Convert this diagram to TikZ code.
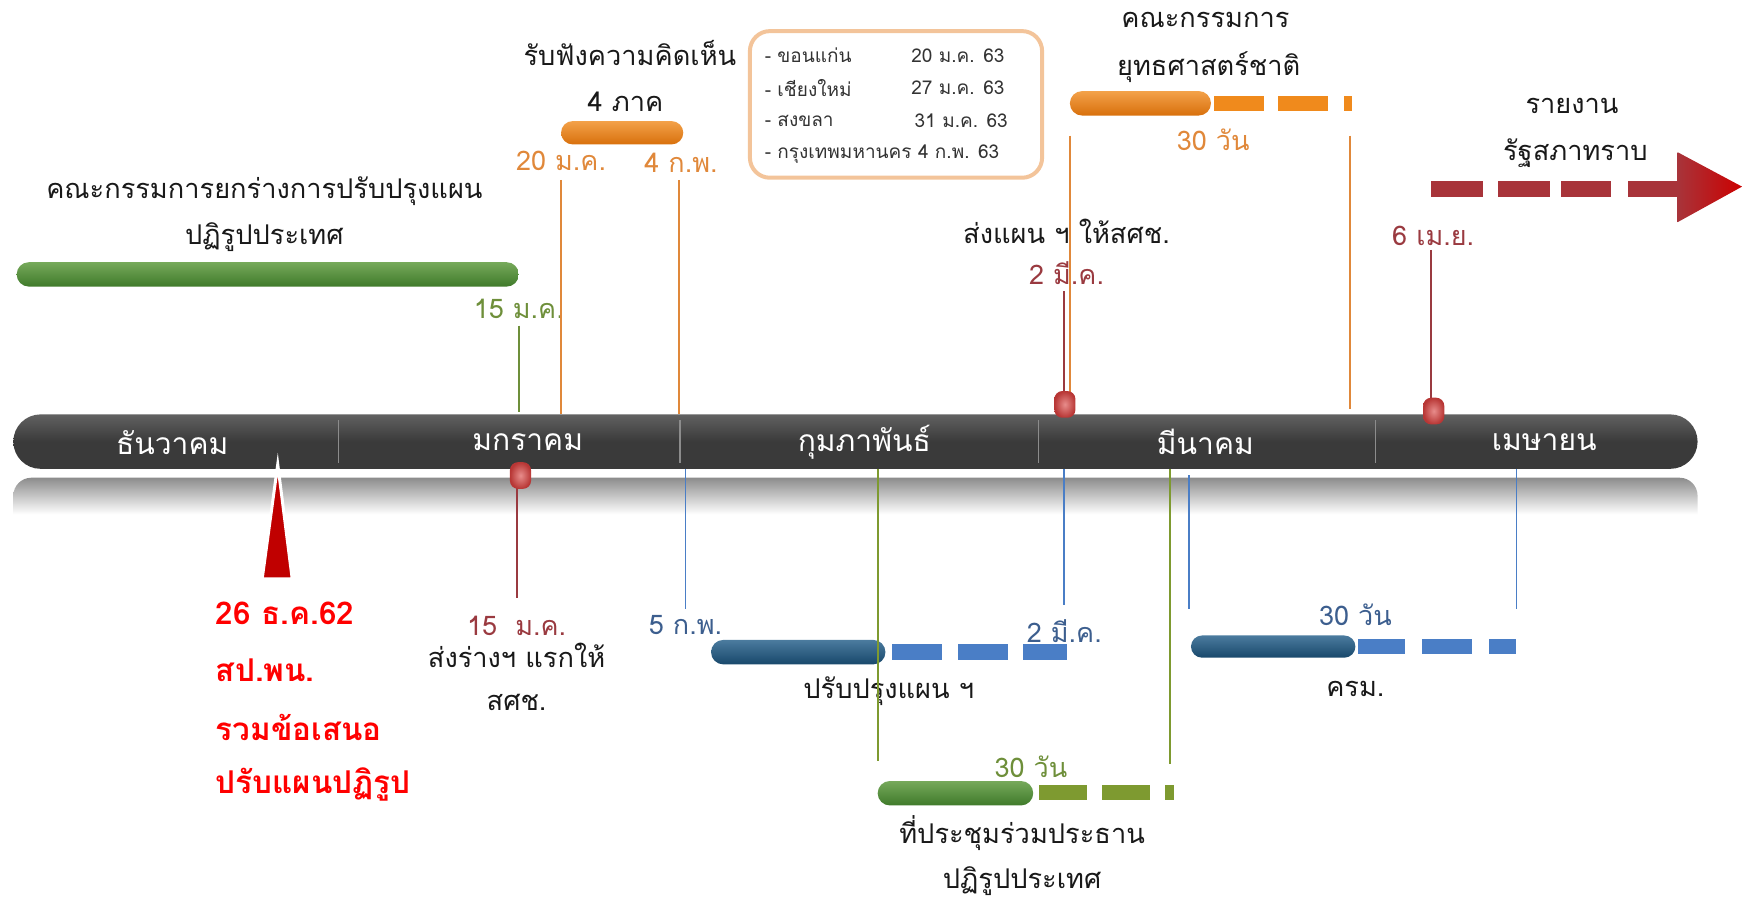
\documentclass[tikz,border=0pt]{standalone}
\usepackage{fontspec}
\newfontfamily\thai[Script=Thai]{Loma}
\usetikzlibrary{shapes.misc}
\definecolor{barc}{HTML}{3A3A3A}
\definecolor{grn}{HTML}{5E9A3E}
\definecolor{grnd}{HTML}{3F7A2A}
\definecolor{grnt}{HTML}{6E8F3A}
\definecolor{olv}{HTML}{7E9A30}
\definecolor{org}{HTML}{F08A1C}
\definecolor{orgd}{HTML}{D8700C}
\definecolor{orgt}{HTML}{E0883A}
\definecolor{orgl}{HTML}{F3C49A}
\definecolor{dred}{HTML}{A8343A}
\definecolor{dredt}{HTML}{9A3A40}
\definecolor{blud}{HTML}{1E5A86}
\definecolor{blul}{HTML}{4A7EC6}
\definecolor{blut}{HTML}{3C5E8E}
\definecolor{bril}{HTML}{FF0000}
\definecolor{tri}{HTML}{C00000}
\definecolor{pinc}{HTML}{D8403E}
\tikzset{
  lbl/.style={font=\thai\fontsize{13.6}{16}\selectfont, text=black!90, inner sep=0pt},
  mon/.style={font=\thai\fontsize{15}{17}\selectfont, text=white, inner sep=0pt},
  dt/.style={font=\thai\fontsize{13.5}{15}\selectfont, inner sep=0pt},
  boxt/.style={font=\thai\fontsize{9.5}{11}\selectfont, text=black!80, inner sep=0pt, anchor=west},
  redt/.style={font=\thai\bfseries\fontsize{15.7}{18}\selectfont, text=bril, inner sep=0pt, anchor=west},
  vl/.style={line width=0.9pt},
  pin/.style={inner color=pinc!60!white, outer color=pinc!85!black, rounded corners=4pt},
  capsule/.style={rounded rectangle, inner sep=0pt, draw=none},
}
\newcommand\capsule[6]{\node[capsule, minimum width={(#4-#2)*0.5555pt}, minimum height={(#5-#3)*0.5555pt}, #6] (#1) at ({(#2+#4)/2},{(#3+#5)/2}) {};}
\begin{document}
\begin{tikzpicture}[x=0.5555pt,y=-0.5555pt]
\useasboundingbox (0,0) rectangle (1568,817);
% reflection
\shade[top color=black!45, bottom color=white, middle color=white, rounded corners=9pt] (12,430) rectangle (1528,496);
% main bar
\capsule{bar}{12}{373}{1528}{422}{top color=black!62, bottom color=barc, middle color=barc}
\foreach \x in {305,612,935,1238} \draw[black!45, line width=0.6pt] (\x,378) -- (\x,417);
\node[mon] (m1) at (155,398) {ธันวาคม};
\node[mon] (m2) at (475,398) {มกราคม};
\node[mon] (m3) at (778,398) {กุมภาพันธ์};
\node[mon] (m4) at (1085,398) {มีนาคม};
\node[mon] (m5) at (1390,398) {เมษายน};

% ---------- top left green
\node[lbl] (gl1) at (238,172) {คณะกรรมการยกร่างการปรับปรุงแผน};
\node[lbl] (gl2) at (238,213) {ปฏิรูปประเทศ};
\capsule{gbar}{15}{236}{467}{258}{top color=grn!85, bottom color=grnd}
\node[dt, text=grnt] (g15) at (467,278) {15 ม.ค.};
\coordinate (g15a) at (467,293); \coordinate (g15b) at (467,371);
\draw[vl, grnt] (g15a) -- (g15b);

% ---------- orange hearing
\node[lbl] (o1) at (567,48) {รับฟังความคิดเห็น};
\node[lbl] (o2) at (563,92) {4 ภาค};
\capsule{obar}{505}{109}{615}{130}{top color=org!80, bottom color=orgd}
\node[dt, text=orgt] (o20) at (505,145) {20 ม.ค.};
\node[dt, text=orgt] (o4) at (613,147) {4 ก.พ.};
\coordinate (o20a) at (505,162); \coordinate (o20b) at (505,373);
\coordinate (o4a) at (611,162); \coordinate (o4b) at (611,373);
\draw[vl, orgt] (o20a) -- (o20b);
\draw[vl, orgt] (o4a) -- (o4b);

% ---------- box
\draw[orgl, line width=2pt, rounded corners=10pt] (675,28) rectangle (938,160);
\node[boxt] (b1) at (688,50) {- ขอนแก่น};
\node[boxt] (b1d) at (820,50) {20 ม.ค. 63};
\node[boxt] (b2) at (688,79) {- เชียงใหม่};
\node[boxt] (b2d) at (820,79) {27 ม.ค. 63};
\node[boxt] (b3) at (688,109) {- สงขลา};
\node[boxt] (b3d) at (823,109) {31 ม.ค. 63};
\node[boxt] (b4) at (688,139) {- กรุงเทพมหานคร 4 ก.พ. 63};

% ---------- strategy committee
\node[lbl] (s1) at (1085,18) {คณะกรรมการ};
\node[lbl] (s2) at (1088,60) {ยุทธศาสตร์ชาติ};
\capsule{sbar}{963}{82}{1090}{104}{top color=org!80, bottom color=orgd}
\fill[org] (1093,86) rectangle (1138,100);
\fill[org] (1150,86) rectangle (1195,100);
\fill[org] (1210,86) rectangle (1217,100);
\node[dt, text=orgt] (s30) at (1092,126) {30 วัน};
\coordinate (s1a) at (963,122); \coordinate (s1b) at (963,373);
\coordinate (s2a) at (1215,122); \coordinate (s2b) at (1215,368);
\draw[vl, orgt] (s1a) -- (s1b);
\draw[vl, orgt] (s2a) -- (s2b);

% ---------- send plan
\node[lbl] (sp) at (960,208) {ส่งแผน ฯ ให้สศช.};
\node[dt, text=dredt] (sp2) at (960,246) {2 มี.ค.};
\coordinate (spa) at (958,262); \coordinate (spb) at (958,360);
\draw[vl, dredt] (spa) -- (spb);
\shade[pin] (949,352) rectangle (968,376);

% ---------- report parliament
\node[lbl] (r1) at (1415,95) {รายงาน};
\node[lbl] (r2) at (1418,138) {รัฐสภาทราบ};
\foreach \a/\b in {1288/1335,1348/1395,1405/1450,1465/1510} \fill[dred] (\a,163) rectangle (\b,177);
\shade[left color=dred, right color=red!80!black] (1510,137) -- (1568,168) -- (1510,200) -- cycle;
\node[dt, text=dredt] (r6) at (1290,212) {6 เม.ย.};
\coordinate (r6a) at (1288,225); \coordinate (r6b) at (1288,362);
\draw[vl, dredt] (r6a) -- (r6b);
\shade[pin] (1281,358) rectangle (1300,382);

% ---------- below: 15 Jan
\coordinate (d15a) at (465,432); \coordinate (d15b) at (465,538);
\draw[vl, dredt] (d15a) -- (d15b);
\shade[pin] (459,416) rectangle (478,440);
\node[dt, text=dredt] (d15) at (465,563) {15~~ม.ค.};
\node[lbl] (d15l1) at (465,590) {ส่งร่างฯ แรกให้};
\node[lbl] (d15l2) at (465,632) {สศช.};

% ---------- blue improve plan
\coordinate (b5a) at (617,422); \coordinate (b5b) at (617,548);
\draw[vl, blul] (b5a) -- (b5b);
\node[dt, text=blut] (b5) at (617,563) {5 ก.พ.};
\capsule{bbar}{640}{576}{797}{598}{top color=blud!80, bottom color=blud!80!black}
\foreach \a/\b in {803/848,862/907,921/960} \fill[blul] (\a,580) rectangle (\b,594);
\node[dt, text=blut] (b2m) at (958,568) {2 มี.ค.};
\coordinate (b2a) at (958,422); \coordinate (b2b) at (958,545);
\draw[vl, blul] (b2a) -- (b2b);
\node[lbl] (bp) at (800,622) {ปรับปรุงแผน ฯ};

% ---------- olive joint meeting
\coordinate (ol1a) at (790,422); \coordinate (ol1b) at (790,685);
\coordinate (ol2a) at (1053,422); \coordinate (ol2b) at (1053,688);
\draw[vl, olv] (ol1a) -- (ol1b);
\draw[vl, olv] (ol2a) -- (ol2b);
\capsule{jbar}{790}{703}{930}{725}{top color=grn!85, bottom color=grnd}
\foreach \a/\b in {935/978,992/1035,1049/1057} \fill[olv] (\a,707) rectangle (\b,720);
\node[dt, text=grnt] (j30) at (928,690) {30 วัน};
\node[lbl] (j1) at (920,750) {ที่ประชุมร่วมประธาน};
\node[lbl] (j2) at (920,793) {ปฏิรูปประเทศ};

% ---------- cabinet
\coordinate (c1a) at (1070,428); \coordinate (c1b) at (1070,548);
\coordinate (c2a) at (1365,422); \coordinate (c2b) at (1365,548);
\draw[vl, blul] (c1a) -- (c1b);
\draw[vl, blul] (c2a) -- (c2b);
\capsule{cbar}{1072}{572}{1220}{592}{top color=blud!80, bottom color=blud!80!black}
\foreach \a/\b in {1222/1265,1280/1325,1340/1365} \fill[blul] (\a,575) rectangle (\b,589);
\node[dt, text=blut] (c30) at (1220,553) {30 วัน};
\node[lbl] (c1) at (1220,620) {ครม.};

% ---------- red pointer
\filldraw[fill=tri, draw=white, line width=1.5pt, line join=miter] (250,418) -- (263,521) -- (236,521) -- cycle;
\node[redt] (rt1) at (194,552) {26 ธ.ค.62};
\node[redt] (rt2) at (194,603) {สป.พน.};
\node[redt] (rt3) at (194,655) {รวมข้อเสนอ};
\node[redt] (rt4) at (194,706) {ปรับแผนปฏิรูป};
\end{tikzpicture}
\end{document}
